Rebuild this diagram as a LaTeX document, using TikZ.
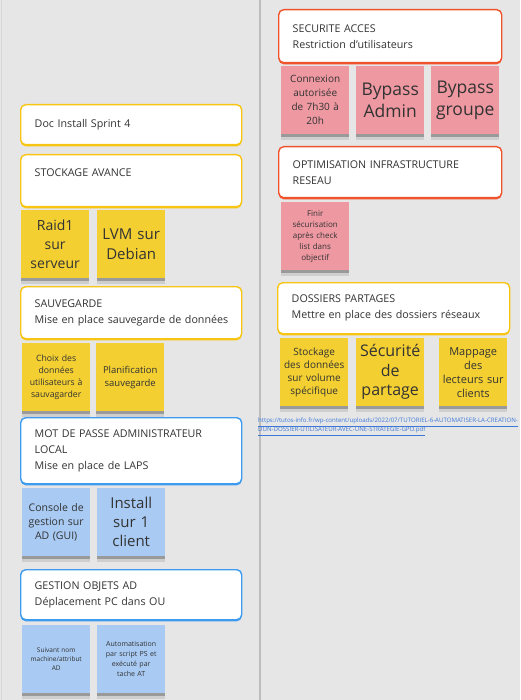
\documentclass[tikz,border=0pt]{standalone}
\usepackage{fontspec}
\setmainfont{Open Sans}
\usepackage{tikz}
\usetikzlibrary{shadows}
\definecolor{mrbg}{HTML}{E6E6E6}
\definecolor{mrline}{HTML}{BDBDBD}
\definecolor{mrink}{HTML}{333333}
\definecolor{mryel}{HTML}{F8C513}
\definecolor{mrred}{HTML}{F0532B}
\definecolor{mrblue}{HTML}{3D9BF0}
\definecolor{notey}{HTML}{F3CF31}
\definecolor{notep}{HTML}{EE98A1}
\definecolor{noteb}{HTML}{A8CAF3}
\definecolor{mrlink}{HTML}{3C78D8}
\tikzset{
  card/.style={draw=#1,line width=1.4pt,fill=white,rounded corners=5pt,
    general shadow={fill=#1,shadow yshift=-1.6pt},
    anchor=north west,text width=193pt,inner xsep=14pt,inner ysep=4pt,
    align=left,font=\fontsize{10.7}{16}\selectfont,text=mrink,
    execute at begin node={\hyphenpenalty=10000\relax}},
  note/.style={fill=#1,anchor=north west,
    minimum width=68pt,minimum height=68pt,text width=64pt,inner xsep=2pt,
    align=center,text=mrink,
    general shadow={fill=black,opacity=0.1,shadow yshift=-5.5pt},
    general shadow={fill=black,opacity=0.25,shadow yshift=-3pt}},
  lnk/.style={anchor=north west,align=left,text=mrlink,inner sep=0pt,
    font=\fontsize{6.1}{9}\selectfont},
}

\begin{document}
\begin{tikzpicture}[x=1pt,y=-1pt]
\fill[mrbg] (0,0) rectangle (520,700);
\useasboundingbox (0,0) rectangle (520,700);
\draw[mrline!60,line width=1pt] (1.5,0) -- (1.5,700);
\draw[mrline,line width=2pt] (260,0) -- (260,700);
% left column
\node[card=mryel,minimum height=40pt] (doc) at (20,104) {Doc Install Sprint 4};
\node[card=mryel,minimum height=52pt] (stock) at (20,154) {STOCKAGE AVANCE\\\mbox{}};
\node[note=notey,font=\fontsize{14}{19}\selectfont] (raid) at (21,210) {Raid1\\sur\\serveur};
\node[note=notey,font=\fontsize{15}{20}\selectfont] (lvm) at (97,210) {LVM sur\\Debian};
\node[card=mryel,minimum height=52pt] (sauv) at (20,286) {SAUVEGARDE\\\mbox{Mise en place sauvegarde de données}};
\node[note=notey,font=\fontsize{8.7}{12}\selectfont] (choix) at (22,343) {Choix des\\données\\utilisateurs à\\sauvagarder};
\node[note=notey,font=\fontsize{9.5}{13}\selectfont] (plan) at (96,343) {Planification\\sauvegarde};
\node[card=mrblue,minimum height=66pt] (mdp) at (20,417) {MOT DE PASSE ADMINISTRATEUR\\LOCAL\\Mise en place de LAPS};
\node[note=noteb,font=\fontsize{10.5}{14}\selectfont] (cons) at (22,488) {Console de\\gestion sur\\AD (GUI)};
\node[note=noteb,font=\fontsize{15}{19}\selectfont] (inst) at (97,488) {Install\\sur 1\\client};
\node[card=mrblue,minimum height=50pt] (gest) at (20,569) {GESTION OBJETS AD\\Déplacement PC dans OU};
\node[note=noteb,font=\fontsize{6.5}{9}\selectfont] (suiv) at (22,625) {Suivant nom\\machine/attribut\\AD};
\node[note=noteb,font=\fontsize{7}{10}\selectfont] (auto) at (97,625) {Automatisation\\par script PS et\\exécuté par\\tache AT};
% right column
\node[card=mrred,text width=195pt,minimum height=53pt] (secu) at (278,9) {SECURITE ACCES\\Restriction d'utilisateurs};
\node[note=notep,font=\fontsize{10}{14}\selectfont] (conn) at (281,66) {Connexion\\autorisée\\de 7h30 à\\20h};
\node[note=notep,font=\fontsize{17.5}{22}\selectfont] (bpadm) at (356,66) {Bypass\\Admin};
\node[note=notep,font=\fontsize{17.5}{22}\selectfont] (bpgrp) at (431,66) {Bypass\\groupe};
\node[card=mrred,text width=195pt,minimum height=51pt] (optim) at (278,146) {OPTIMISATION INFRASTRUCTURE\\RESEAU};
\node[note=notep,font=\fontsize{8}{11}\selectfont] (finir) at (281,202) {Finir\\sécurisation\\après check\\list dans\\objectif};
\node[card=mryel,text width=204pt,minimum height=51pt] (doss) at (277,282) {DOSSIERS PARTAGES\\Mettre en place des dossiers réseaux};
\node[note=notey,font=\fontsize{10}{13}\selectfont] (stov) at (280,338) {Stockage\\des données\\sur volume\\spécifique};
\node[note=notey,font=\fontsize{16}{19.5}\selectfont] (secp) at (356,338) {Sécurité\\de\\partage};
\node[note=notey,font=\fontsize{11}{14}\selectfont] (mapp) at (439,338) {Mappage\\des\\lecteurs sur\\clients};
\node[lnk] (url) at (258,418) {\underline{https://tutos-info.fr/wp-content/uploads/2022/07/TUTORIEL-6-AUTOMATISER-LA-CREATION-}\\\underline{DUN-DOSSIER-UTILISATEUR-AVEC-UNE-STRATEGIE-GPO.pdf}};
\end{tikzpicture}
\end{document}
